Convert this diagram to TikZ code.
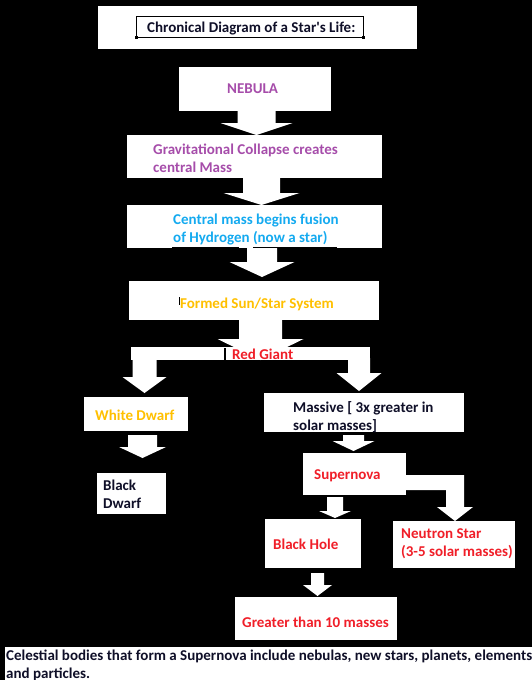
\documentclass[tikz,border=0pt]{standalone}
\usepackage{fontspec}
\setmainfont{Carlito}[Ligatures=TeXOff]
\definecolor{nebpurple}{RGB}{166,77,170}
\definecolor{fusionblue}{RGB}{20,170,240}
\definecolor{staryellow}{RGB}{255,192,0}
\definecolor{giantred}{RGB}{240,30,40}
\definecolor{titleink}{RGB}{15,15,40}
\tikzset{
  box/.style={fill=white, draw=none, inner sep=0pt},
  txt/.style={inner sep=0pt, anchor=west, align=left, font=\fontsize{15}{18}\selectfont\bfseries},
  arrowfill/.style={fill=white},
}
\newcommand\boxnode[5]{\node[box, minimum width={(#4)-(#2)}, minimum height={(#5)-(#3)}] (#1) at ({((#2)+(#4))/2},{((#3)+(#5))/2}) {};}
% xc, ytop, ytip, shaft half width, head half width, head length
\newcommand\blockarrow[6]{\fill[arrowfill] ({#1-#4},#2) -- ({#1+#4},#2) -- ({#1+#4},{#3-#6}) -- ({#1+#5},{#3-#6}) -- (#1,#3) -- ({#1-#5},{#3-#6}) -- ({#1-#4},{#3-#6}) -- cycle;}
\begin{document}
\begin{tikzpicture}[x=1pt,y=-1pt]
\useasboundingbox (0,0) rectangle (532,680);
\fill[black] (0,0) rectangle (532,680);
% boxes
\boxnode{titlebox}{98}{6}{417}{49}
\boxnode{neb}{179}{67}{331}{111}
\boxnode{grav}{127}{135}{382}{178}
\boxnode{central}{127}{205}{382}{248}
\boxnode{formed}{129}{281}{379}{320}
\boxnode{wdwarf}{84}{397}{188}{431}
\boxnode{massive}{264}{393}{464}{432}
\boxnode{bdwarf}{97}{473}{166}{514}
\boxnode{snova}{303}{453}{406}{495}
\boxnode{bhole}{265}{519}{361}{568}
\boxnode{neutron}{393}{521}{515}{568}
\boxnode{greater}{235}{597}{397}{640}
\boxnode{notebox}{5}{647}{532}{680}
% title frame
\draw[black, line width=1pt] (136,16) rectangle (363,37);
\fill[black] (134.5,35.5) rectangle (137.5,38.5);
\fill[black] (361.5,35.5) rectangle (364.5,38.5);
% block arrows
\blockarrow{256.5}{111}{135}{19}{36}{12}
\blockarrow{261.5}{178}{205}{18.5}{38}{12}
\blockarrow{262}{248}{277}{15}{32.5}{15}
\blockarrow{260.5}{320}{360}{21.5}{43}{21}
\fill[arrowfill] (131,347) rectangle (370,360);
\blockarrow{144.5}{358}{393}{12}{22}{16}
\blockarrow{359}{358}{391}{11}{22.5}{18}
\blockarrow{142.5}{435}{458}{14.5}{23.5}{11}
\blockarrow{353.5}{435}{451}{10.5}{21}{10}
\blockarrow{335}{497}{518}{8}{16}{7}
\fill[arrowfill] (406,475) -- (464,475) -- (464,507) -- (473,507) -- (455,521) -- (437,507) -- (446,507) -- (446,490) -- (406,490) -- cycle;
\blockarrow{317.5}{573}{596}{6.5}{14.5}{11}
% cursor marks and underlines
\draw[black, line width=1.3pt] (225,348) -- (225,361);
\draw[black, line width=0.8pt] (179.5,297) -- (179.5,305);
\draw[black, line width=1pt] (172,247) -- (239,247);
\draw[black, line width=1pt] (253,247) -- (337,247);
% texts
\node[txt, text=titleink] (titlet) at (147,29) {Chronical Diagram of a Star's Life:};
\node[txt, text=nebpurple] (nebt) at (227,89) {NEBULA};
\node[txt, text=nebpurple] (gravt) at (153,158) {Gravitational Collapse creates\\central Mass};
\node[txt, text=fusionblue] (centralt) at (173,230) {Central mass begins fusion\\of Hydrogen (now a star)};
\node[txt, text=staryellow] (formedt) at (180,304) {Formed Sun/Star System};
\node[txt, text=giantred] (giantt) at (232,354) {Red Giant};
\node[txt, text=staryellow] (wdwarft) at (95,415) {White Dwarf};
\node[txt, text=titleink] (massivet) at (293,417) {Massive [ 3x greater in\\solar masses]};
\node[txt, text=titleink] (bdwarft) at (103,494) {Black\\Dwarf};
\node[txt, text=giantred] (snovat) at (314,476) {Supernova};
\node[txt, text=giantred] (bholet) at (273,544) {Black Hole};
\node[txt, text=giantred] (neutront) at (401,544) {Neutron Star\\(3-5 solar masses)};
\node[txt, text=giantred] (greatert) at (242,622) {Greater than 10 masses};
\node[txt, text=titleink] (notet) at (6,665) {Celestial bodies that form a Supernova include nebulas, new stars, planets, elements\\and particles.};
\end{tikzpicture}
\end{document}
